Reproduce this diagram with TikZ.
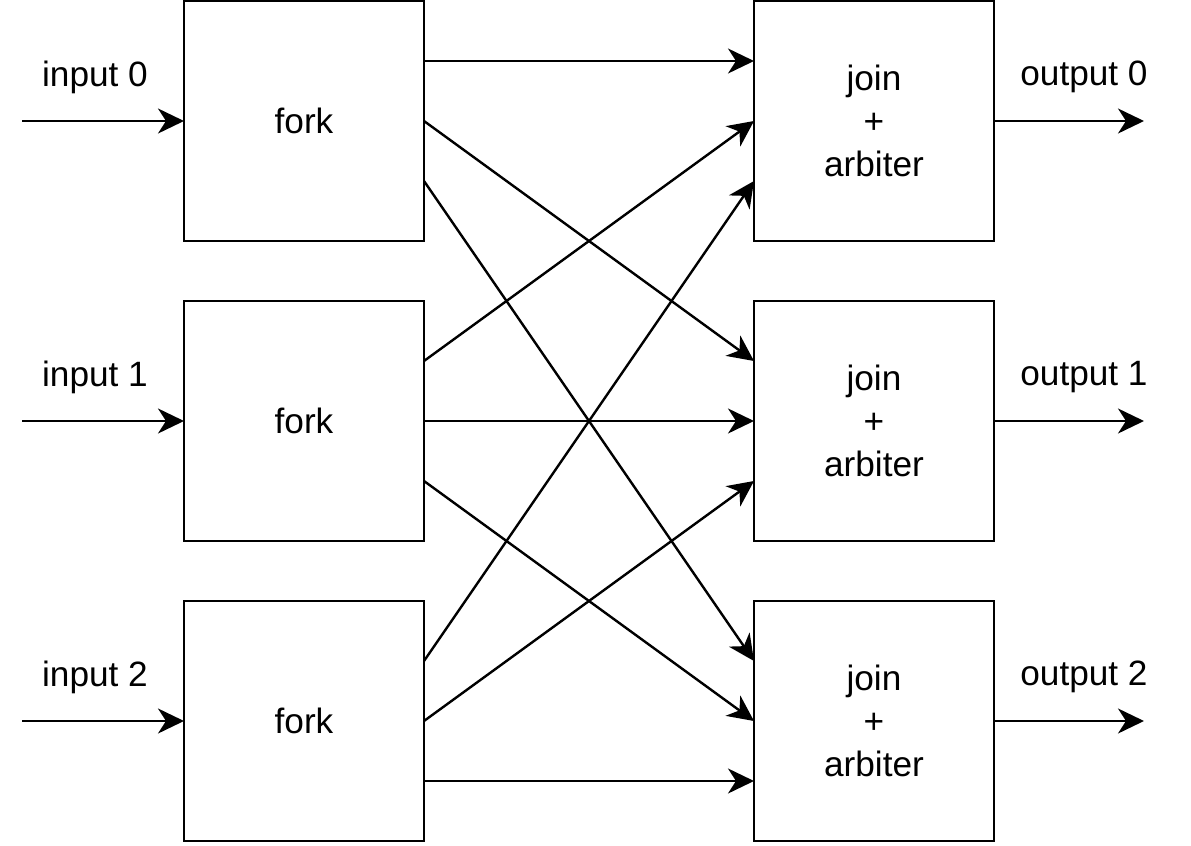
\documentclass[tikz,border=0pt]{standalone}
\usepackage{fontspec}
\setmainfont{Liberation Sans}
\usetikzlibrary{arrows.meta,positioning}

\begin{document}
\begin{tikzpicture}[x=0.5pt, y=-0.5pt,
  box/.style={rectangle, draw, line width=1.4pt, outer sep=0pt, inner sep=0pt, minimum width=120pt, minimum height=120pt, align=center, font=\fontsize{17.6}{21.5}\selectfont},
  arr/.style={-{Stealth[length=13pt, width=12.5pt, inset=4pt]}, line width=1.2pt},
  lab/.style={inner sep=0pt, font=\fontsize{17.6}{21.5}\selectfont}
]
\useasboundingbox (0,0) rectangle (1191,846);
% fork and join blocks
\node[box] (fork0) at (304,121) {fork};
\node[box, below=30pt of fork0] (fork1) {fork};
\node[box, below=30pt of fork1] (fork2) {fork};
\node[box, right=165pt of fork0] (join0) {join\\+\\arbiter};
\node[box, right=165pt of fork1] (join1) {join\\+\\arbiter};
\node[box, right=165pt of fork2] (join2) {join\\+\\arbiter};
% inputs and outputs
\coordinate (in0) at (22,121); \coordinate (in1) at (22,421); \coordinate (in2) at (22,721);
\coordinate (out0) at (1144,121); \coordinate (out1) at (1144,421); \coordinate (out2) at (1144,721);
\node[lab] (inlab0) at (95,77) {input 0};
\node[lab] (inlab1) at (95,377) {input 1};
\node[lab] (inlab2) at (95,677) {input 2};
\node[lab] (outlab0) at (1084,77) {output 0};
\node[lab] (outlab1) at (1084,377) {output 1};
\node[lab] (outlab2) at (1084,677) {output 2};
\draw[arr] (in0) -- (fork0); \draw[arr] (in1) -- (fork1); \draw[arr] (in2) -- (fork2);
\draw[arr] (join0) -- (out0); \draw[arr] (join1) -- (out1); \draw[arr] (join2) -- (out2);
% crossbar
\draw[arr] ([yshift=30pt]fork0.east) -- ([yshift=30pt]join0.west);
\draw[arr] (fork0.east) -- ([yshift=30pt]join1.west);
\draw[arr] ([yshift=-30pt]fork0.east) -- ([yshift=30pt]join2.west);
\draw[arr] ([yshift=30pt]fork1.east) -- (join0.west);
\draw[arr] (fork1.east) -- (join1.west);
\draw[arr] ([yshift=-30pt]fork1.east) -- (join2.west);
\draw[arr] ([yshift=30pt]fork2.east) -- ([yshift=-30pt]join0.west);
\draw[arr] (fork2.east) -- ([yshift=-30pt]join1.west);
\draw[arr] ([yshift=-30pt]fork2.east) -- ([yshift=-30pt]join2.west);
\end{tikzpicture}
\end{document}
